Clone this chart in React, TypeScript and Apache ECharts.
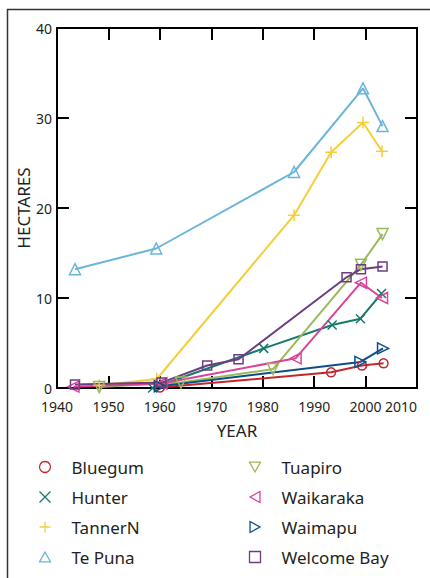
import React, { useEffect, useRef } from "react";
import * as echarts from "echarts";

const seriesNames = ["Bluegum", "Hunter", "TannerN", "Te Puna", "Tuapiro", "Waikaraka", "Waimapu", "Welcome Bay"];
const seriesColors = ["#c3262d", "#157a6c", "#f2cf3b", "#6cb5d8", "#9bb95a", "#d8449b", "#0f4d86", "#6c3d80"];

const bluegum = [[1960, 0.05], [1993.3, 1.75], [1999.3, 2.5], [2003.5, 2.75]];
const hunter = [[1958.6, 0], [1980.2, 4.4], [1993.5, 7.0], [1999.0, 7.7], [2003.1, 10.5]];
const tannerN = [[1948.2, 0.3], [1959.4, 1.0], [1986.1, 19.2], [1993.3, 26.2], [1999.5, 29.5], [2003.2, 26.3]];
const tePuna = [[1943.5, 13.2], [1959.3, 15.5], [1986.1, 24.0], [1999.5, 33.3], [2003.3, 29.1]];
const tuapiro = [[1948.2, 0.1], [1964.1, 0.6], [1982.0, 2.1], [1999.1, 13.7], [2003.3, 17.1]];
const waikaraka = [[1943.2, 0.15], [1960.3, 0.5], [1986.4, 3.3], [1999.1, 11.7], [2003.2, 10.0]];
const waimapu = [[1960.0, 0.2], [1999.0, 2.9], [2003.4, 4.4]];
const welcomeBay = [[1943.5, 0.4], [1960.3, 0.6], [1969.2, 2.5], [1975.3, 3.2], [1996.3, 12.3], [1999.1, 13.2], [2003.3, 13.5]];

const seriesData = [bluegum, hunter, tannerN, tePuna, tuapiro, waikaraka, waimapu, welcomeBay];

const xMin = 1940;
const xMax = 2010;
const xStep = 10;
const yMin = 0;
const yMax = 40;
const yStep = 10;

const SYM = {
  circle: "path://M5,0A5,5 0 1 1 4.99,0Z",
  cross: "path://M0,0L10,10M10,0L0,10",
  plus: "path://M5,0L5,10M0,5L10,5",
  up: "path://M5,0L10,9L0,9Z",
  down: "path://M0,0L10,0L5,9Z",
  left: "path://M0,5L9,0L9,10Z",
  right: "path://M0,0L9,5L0,10Z",
  square: "path://M0,0H10V10H0Z",
};
const seriesSymbols = [SYM.circle, SYM.cross, SYM.plus, SYM.up, SYM.down, SYM.left, SYM.right, SYM.square];
const seriesSymbolSizes = [9, 9, 12, 11, 11, 11, 11, 9];

const FONT = "'Noto Sans', sans-serif";
const TEXT = "#231f20";

export default function App() {
  const ref = useRef<HTMLDivElement>(null);
  useEffect(() => {
    if (!ref.current) return;
    const chart = echarts.init(ref.current, null, { renderer: "svg" });

    const legendItem = (i: number) => ({
      name: seriesNames[i],
      icon: seriesSymbols[i],
      itemStyle: { color: "none", borderColor: seriesColors[i], borderWidth: 1.3 },
    });

    const legendCommon = {
      orient: "vertical" as const,
      itemWidth: 11,
      itemHeight: 11,
      itemGap: 10,
      selectedMode: false,
      textStyle: { fontFamily: FONT, fontSize: 17, color: TEXT, lineHeight: 20, padding: [0, 0, 0, 16] },
    };

    const tickCommon = { show: true, inside: true, length: 12, lineStyle: { color: "#000", width: 2 } };
    const lineCommon = { show: true, onZero: false, lineStyle: { color: "#000", width: 2 } };

    chart.setOption({
      animation: false,
      backgroundColor: "#fff",
      graphic: [
        {
          type: "rect",
          shape: { x: 7.5, y: 9.5, width: 600, height: 700 },
          style: { fill: "none", stroke: "#333", lineWidth: 1.5 },
          silent: true,
        },
      ],
      grid: { left: 57, top: 28, right: 13, bottom: 190, containLabel: false },
      xAxis: [
        {
          type: "value",
          min: xMin,
          max: xMax,
          interval: xStep,
          position: "bottom",
          name: "YEAR",
          nameLocation: "middle",
          nameGap: 34,
          nameMoveOverlap: false,
          nameTextStyle: { fontFamily: FONT, fontSize: 17, color: TEXT },
          axisLine: lineCommon,
          axisTick: tickCommon,
          splitLine: { show: false },
          axisLabel: {
            fontFamily: FONT,
            fontSize: 14,
            lineHeight: 14,
            color: TEXT,
            margin: 11,
            showMinLabel: true,
            showMaxLabel: true,
            hideOverlap: false,
            alignMaxLabel: "right",
            formatter: (v: number) => String(v),
          },
        },
        {
          type: "value",
          min: xMin,
          max: xMax,
          interval: xStep,
          position: "top",
          axisLine: lineCommon,
          axisTick: tickCommon,
          splitLine: { show: false },
          axisLabel: { show: false },
        },
      ],
      yAxis: [
        {
          type: "value",
          min: yMin,
          max: yMax,
          interval: yStep,
          position: "left",
          name: "HECTARES",
          nameLocation: "middle",
          nameGap: 25,
          nameMoveOverlap: false,
          nameTextStyle: { fontFamily: FONT, fontSize: 17, color: TEXT },
          axisLine: lineCommon,
          axisTick: tickCommon,
          splitLine: { show: false },
          axisLabel: { fontFamily: FONT, fontSize: 14, lineHeight: 14, color: TEXT, margin: 5 },
        },
        {
          type: "value",
          min: yMin,
          max: yMax,
          interval: yStep,
          position: "right",
          axisLine: lineCommon,
          axisTick: tickCommon,
          splitLine: { show: false },
          axisLabel: { show: false },
        },
      ],
      legend: [
        { ...legendCommon, left: 32, top: 452, data: [0, 1, 2, 3].map(legendItem) },
        { ...legendCommon, left: 242, top: 452, data: [4, 5, 6, 7].map(legendItem) },
      ],
      series: seriesData.map((d, i) => ({
        type: "line",
        name: seriesNames[i],
        data: d,
        xAxisIndex: 0,
        yAxisIndex: 0,
        symbol: seriesSymbols[i],
        symbolSize: seriesSymbolSizes[i],
        showAllSymbol: true,
        lineStyle: { color: seriesColors[i], width: 2 },
        itemStyle: { color: "none", borderColor: seriesColors[i], borderWidth: 1.5 },
        emphasis: { disabled: true },
        z: 2,
      })),
    });

    return () => chart.dispose();
  }, []);

  return (
    <div
      ref={ref}
      style={{ position: "fixed", left: 0, top: 0, width: 430, height: 578, background: "#fff" }}
    />
  );
}
